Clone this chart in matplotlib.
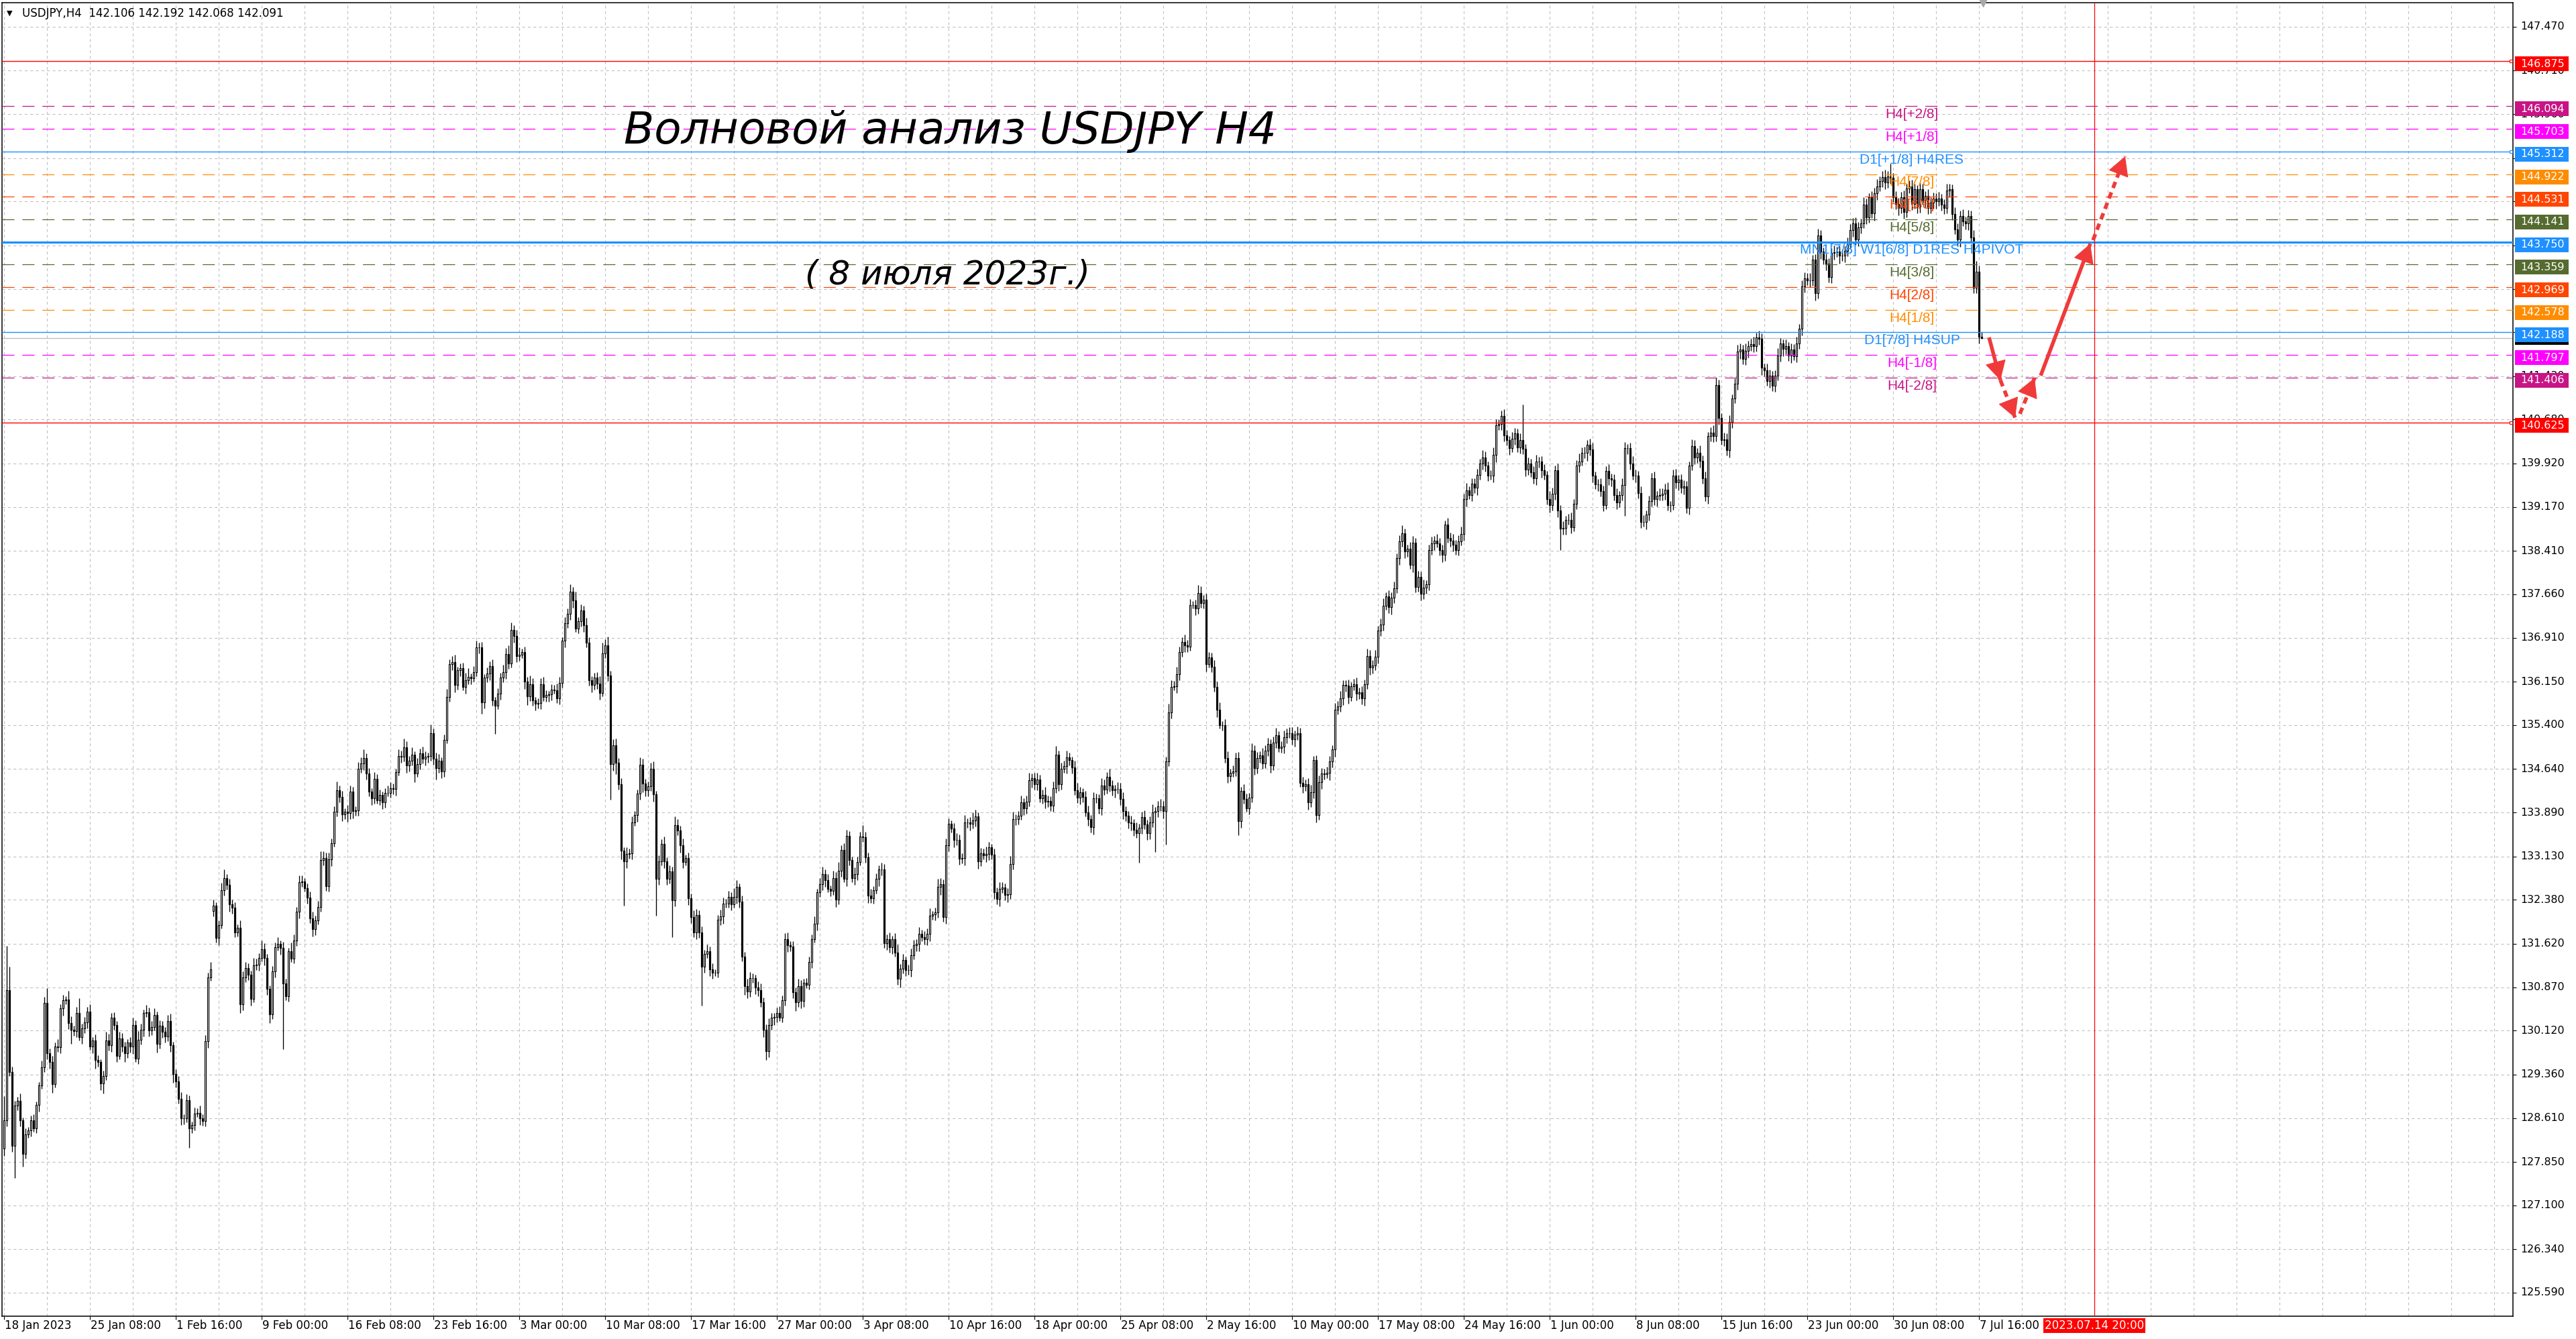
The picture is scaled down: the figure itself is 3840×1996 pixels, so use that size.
import numpy as np
import matplotlib
matplotlib.use("Agg")
import matplotlib.pyplot as plt
import matplotlib.transforms as mtransforms
from matplotlib.patches import Rectangle, FancyArrowPatch
from matplotlib.collections import LineCollection, PatchCollection

plt.rcParams['lines.scale_dashes'] = False
plt.rcParams['font.family'] = ['DejaVu Sans']

# ======================= DATA =======================
symbol = "USDJPY,H4"
header_ohlc = [142.106, 142.192, 142.068, 142.091]

# H4 closes, bar 0 = 18 Jan 2023 00:00 ... bar 737 = 7 Jul 2023 20:00
closes = [
    128.57, 130.82, 129.40, 128.13, 128.82, 128.91, 128.57, 127.99, 128.33, 128.39,
    128.57, 128.43, 128.84, 129.17, 129.48, 130.60, 129.73, 129.58, 129.20, 129.85,
    129.83, 130.50, 130.64, 130.66, 130.25, 130.14, 130.11, 130.43, 130.01, 130.16,
    130.26, 130.45, 129.85, 129.95, 129.61, 129.58, 129.21, 129.33, 129.95, 129.87,
    130.34, 130.22, 129.68, 129.98, 129.85, 129.73, 129.91, 129.84, 130.22, 129.64,
    129.96, 130.14, 130.42, 130.44, 130.12, 130.18, 130.39, 129.89, 130.20, 130.10,
    130.02, 130.29, 129.87, 129.37, 129.24, 128.94, 128.61, 128.60, 128.92, 128.43,
    128.49, 128.69, 128.70, 128.61, 128.56, 129.94, 131.04, 131.18, 132.28, 131.72,
    131.94, 132.55, 132.76, 132.64, 132.30, 132.24, 131.81, 131.90, 130.57, 131.04,
    131.20, 131.09, 130.67, 131.25, 131.26, 131.38, 131.53, 131.37, 130.84, 130.40,
    131.14, 131.56, 131.62, 131.55, 130.94, 130.72, 131.49, 131.36, 131.68, 132.18,
    132.68, 132.70, 132.58, 132.42, 132.06, 131.87, 132.02, 132.26, 133.07, 133.10,
    132.62, 133.08, 133.36, 133.90, 134.27, 134.16, 133.86, 133.90, 133.88, 134.25,
    133.91, 133.93, 134.64, 134.74, 134.83, 134.56, 134.25, 134.14, 134.47, 134.10,
    134.19, 134.07, 134.23, 134.23, 134.31, 134.30, 134.59, 134.86, 134.85, 135.02,
    134.70, 134.78, 134.89, 134.56, 134.73, 134.91, 134.82, 134.85, 134.86, 135.26,
    134.82, 134.66, 134.78, 134.60, 135.14, 135.88, 136.45, 136.49, 136.09, 136.35,
    136.38, 136.06, 136.18, 136.23, 136.21, 136.32, 136.74, 136.74, 135.79, 136.22,
    136.29, 136.42, 135.83, 135.74, 135.94, 136.22, 136.32, 136.63, 136.47, 137.05,
    136.94, 136.59, 136.62, 136.66, 136.15, 135.90, 136.11, 135.83, 135.77, 135.78,
    136.11, 135.88, 135.92, 135.93, 136.01, 136.00, 135.86, 136.13, 136.86, 137.16,
    137.32, 137.71, 137.55, 137.07, 137.20, 137.38, 137.13, 136.82, 136.18, 136.09,
    136.22, 136.12, 135.96, 136.64, 136.78, 136.26, 134.73, 135.05, 134.75, 134.38,
    133.23, 133.05, 133.17, 133.18, 133.72, 133.85, 134.21, 134.72, 134.39, 134.27,
    134.34, 134.65, 134.20, 132.74, 133.05, 133.35, 133.05, 132.74, 132.87, 132.37,
    133.67, 133.58, 133.32, 133.03, 133.10, 132.41, 132.08, 131.82, 132.12, 131.82,
    131.22, 131.45, 131.49, 131.18, 131.12, 131.12, 132.04, 132.09, 132.32, 132.32,
    132.43, 132.30, 132.43, 132.60, 132.35, 131.40, 130.89, 130.80, 131.03, 131.03,
    130.87, 130.82, 130.61, 130.13, 129.76, 130.21, 130.34, 130.36, 130.42, 130.34,
    130.65, 131.70, 131.60, 131.57, 130.78, 130.61, 130.89, 130.63, 130.95, 130.91,
    131.30, 131.70, 131.97, 132.51, 132.65, 132.83, 132.72, 132.57, 132.54, 132.76,
    132.38, 132.88, 133.24, 132.74, 133.49, 133.07, 132.76, 132.82, 133.03, 133.47,
    133.46, 133.12, 132.45, 132.41, 132.55, 132.74, 132.90, 132.90, 131.63, 131.70,
    131.56, 131.70, 131.47, 131.01, 131.19, 131.34, 131.17, 131.17, 131.42, 131.59,
    131.62, 131.79, 131.74, 131.70, 131.79, 132.11, 132.13, 132.16, 132.60, 132.65,
    132.08, 133.32, 133.69, 133.61, 133.41, 133.41, 133.09, 133.10, 133.72, 133.72,
    133.69, 133.75, 133.82, 133.05, 133.18, 133.15, 133.17, 133.29, 133.16, 132.51,
    132.39, 132.57, 132.59, 132.47, 132.48, 133.00, 133.78, 133.78, 133.83, 134.07,
    133.96, 134.08, 134.45, 134.48, 134.38, 134.46, 134.13, 134.19, 134.08, 134.09,
    134.01, 134.31, 134.89, 134.38, 134.65, 134.69, 134.84, 134.79, 134.67, 134.27,
    134.15, 134.24, 134.16, 133.89, 133.77, 133.64, 134.13, 134.13, 133.96, 134.36,
    134.29, 134.51, 134.36, 134.27, 134.30, 134.30, 134.12, 133.91, 133.83, 133.72,
    133.70, 133.59, 133.53, 133.62, 133.81, 133.68, 133.53, 133.72, 133.89, 133.91,
    134.00, 133.99, 133.91, 134.77, 135.62, 136.06, 136.07, 136.28, 136.66, 136.84,
    136.78, 136.76, 137.47, 137.47, 137.42, 137.68, 137.51, 137.57, 136.45, 136.57,
    136.41, 136.06, 135.66, 135.40, 135.40, 134.83, 134.52, 134.57, 134.60, 134.83,
    133.74, 134.26, 134.12, 133.96, 134.15, 134.96, 134.66, 134.83, 134.88, 134.74,
    134.96, 135.07, 134.70, 135.10, 135.22, 135.00, 135.03, 135.19, 135.26, 135.26,
    135.15, 135.24, 135.26, 134.40, 134.34, 134.38, 134.07, 134.24, 134.79, 133.84,
    134.41, 134.56, 134.55, 134.57, 134.77, 134.98, 135.66, 135.72, 135.86, 136.09,
    136.08, 135.89, 136.07, 136.10, 135.94, 135.97, 135.86, 136.10, 136.59, 136.39,
    136.43, 136.58, 137.03, 137.14, 137.46, 137.62, 137.44, 137.60, 137.76, 138.29,
    138.58, 138.71, 138.40, 138.45, 138.17, 138.55, 137.79, 137.96, 137.67, 137.78,
    137.83, 138.42, 138.54, 138.59, 138.54, 138.42, 138.34, 138.86, 138.63, 138.59,
    138.52, 138.43, 138.58, 138.70, 139.31, 139.46, 139.37, 139.57, 139.50, 139.72,
    139.92, 140.03, 139.88, 139.71, 139.71, 140.07, 140.58, 140.60, 140.74, 140.41,
    140.32, 140.19, 140.35, 140.44, 140.20, 140.32, 140.17, 139.82, 139.92, 139.77,
    139.66, 139.95, 139.96, 139.80, 139.72, 139.31, 139.20, 139.40, 139.80, 139.11,
    138.79, 138.81, 138.95, 138.95, 138.82, 139.23, 139.89, 139.96, 140.10, 140.10,
    140.25, 140.16, 139.71, 139.56, 139.56, 139.44, 139.20, 139.79, 139.66, 139.64,
    139.38, 139.25, 139.37, 139.55, 140.19, 140.19, 139.92, 139.71, 139.71, 139.41,
    138.91, 138.91, 139.04, 139.27, 139.66, 139.30, 139.36, 139.38, 139.40, 139.47,
    139.20, 139.20, 139.71, 139.59, 139.64, 139.50, 139.52, 139.16, 139.88, 140.22,
    140.02, 140.11, 139.97, 139.67, 139.35, 140.39, 140.45, 140.40, 141.28, 140.71,
    140.32, 140.34, 140.15, 140.64, 141.04, 141.30, 141.86, 141.89, 141.73, 141.87,
    141.95, 141.98, 141.95, 142.10, 142.08, 141.58, 141.53, 141.35, 141.44, 141.26,
    141.44, 141.79, 141.99, 141.90, 141.95, 141.79, 141.89, 141.78, 141.99, 142.25,
    142.98, 143.12, 143.08, 143.08, 143.44, 142.87, 143.86, 143.58, 143.44, 143.37,
    143.14, 143.56, 143.57, 143.58, 143.51, 143.51, 143.60, 143.71, 143.96, 144.07,
    143.79, 144.00, 144.07, 144.40, 144.18, 144.52, 144.25, 144.59, 144.71, 144.80,
    144.87, 144.78, 144.88, 144.86, 144.52, 144.41, 144.34, 144.52, 144.27, 144.67,
    144.71, 144.41, 144.66, 144.36, 144.66, 144.48, 144.55, 144.34, 144.43, 144.50,
    144.45, 144.50, 144.39, 144.34, 144.64, 144.66, 144.23, 143.97, 143.79, 144.20,
    144.11, 144.07, 144.20, 143.83, 142.96, 143.24, 142.106, 142.091,
]
# opens equal the previous close except at these gaps
gap_opens = {0: 128.08, 78: 132.19}

# upper / lower shadows in 0.01 JPY, 30 bars per row
wick_up_rows = [
    "42 76 41 10 8 6 12 5 10 6 8 10 5 6 12 10 25 8 10 6 12 8 10 5 15 12 6 10 25 8",
    "10 8 12 6 10 8 5 10 15 12 8 10 6 12 10 8 6 10 12 8 15 10 6 12 8 10 12 6 10 8",
    "8 10 12 6 8 10 12 6 10 8 6 10 8 12 6 10 8 12 10 6 8 12 15 6 10 8 10 6 12 10",
    "10 8 6 12 10 8 15 10 8 6 10 8 12 6 10 8 6 15 10 8 12 10 6 8 10 12 8 10 15 12",
    "10 12 8 10 15 8 10 6 12 10 8 6 12 10 15 8 10 6 12 8 10 6 8 12 10 8 6 12 10 15",
    "10 8 12 6 10 8 12 10 6 15 8 10 12 6 10 15 8 10 12 6 8 10 12 15 6 10 12 8 10 6",
    "10 8 12 6 10 8 12 10 15 12 8 10 12 6 10 8 15 10 6 8 10 12 8 6 10 8 12 10 6 10",
    "10 12 8 15 6 10 8 12 10 6 8 10 12 18 10 15 8 10 12 8 10 6 12 8 10 6 8 12 10 8",
    "8 10 12 6 10 8 12 6 10 8 15 10 8 12 6 10 8 12 10 8 10 6 12 8 10 6 8 12 10 8",
    "10 8 15 12 6 10 8 12 10 8 6 10 12 8 10 12 8 6 10 12 8 10 12 6 10 8 12 10 6 8",
    "10 8 12 6 10 12 8 10 6 12 10 15 8 12 10 8 6 12 10 8 20 10 8 12 6 10 8 12 10 8",
    "12 6 10 14 8 10 6 9 12 10 8 12 7 10 9 12 6 8 14 10 8 12 10 6 9 12 10 8 12 7",
    "9 14 12 7 10 8 13 9 6 10 8 12 9 7 10 14 12 8 9 11 7 10 13 8 9 12 8 10 14 9",
    "8 11 15 7 10 9 12 8 6 11 13 9 7 10 12 8 11 9 7 12 10 8 13 9 7 11 10 12 8 9",
    "11 8 13 7 9 12 8 10 14 7 9 12 10 8 15 11 9 13 10 8 12 9 11 7 10 14 12 8 10 9",
    "8 11 9 13 7 10 12 8 10 9 11 7 12 10 8 13 9 10 7 12 9 11 8 10 13 7 9 12 8 10",
    "10 7 12 9 11 8 10 13 7 9 12 10 8 11 9 7 12 10 13 8 9 11 7 10 12 8 10 9 13 11",
    "9 12 8 10 13 7 11 9 12 8 10 14 9 7 11 12 8 10 9 13 7 10 12 8 11 9 10 7 12 9",
    "11 8 10 13 9 12 7 10 9 11 8 12 10 7 9 13 11 8 10 12 9 7 11 10 8 12 62 9 10 8",
    "10 12 8 9 11 7 13 10 8 12 9 11 7 10 12 8 9 13 10 11 8 10 12 7 9 11 10 8 12 9",
    "9 11 8 12 10 7 9 13 10 8 11 12 7 9 10 12 8 11 9 10 13 7 10 12 8 9 11 10 8 12",
    "10 8 12 9 11 7 10 13 12 9 8 11 10 12 7 9 11 10 8 12 9 10 13 8 11 9 7 12 10 8",
    "9 12 10 8 11 7 10 9 12 8 11 10 9 13 8 10 12 9 7 11 10 8 12 9 10 11 8 12 10 9",
    "11 9 8 12 10 7 11 9 12 8 10 13 9 22 8 11 10 9 12 8 10 11 9 7 12 10 8 11 9 10",
    "9 12 8 10 11 9 8 12 10 9 11 8 10 9 12 18 10 9",
]
wick_dn_rows = [
    "12 10 6 10 56 8 10 22 8 6 10 6 8 12 5 8 10 12 15 6 8 10 12 6 10 25 8 10 6 12",
    "8 10 6 12 15 8 12 18 6 10 12 8 10 6 10 15 8 10 12 6 10 8 12 6 10 8 6 15 8 10",
    "10 8 12 15 10 8 12 10 6 34 8 10 6 12 8 10 12 6 10 8 12 6 10 8 12 10 8 6 15 10",
    "8 10 12 6 8 10 6 12 10 15 8 10 6 12 114 8 10 6 8 10 12 8 6 10 8 12 10 6 8 10",
    "8 10 12 6 8 10 12 8 15 10 12 8 10 6 12 10 8 12 10 6 8 12 10 6 8 10 12 6 10 8",
    "12 10 8 15 6 10 8 12 10 8 10 20 8 12 10 6 8 10 12 8 10 6 12 8 10 6 8 10 20 10",
    "8 12 10 49 6 10 8 12 10 8 12 10 8 6 12 15 8 10 12 8 10 6 8 12 10 6 8 10 8 12",
    "8 10 12 6 8 10 12 8 10 12 8 10 12 6 8 10 62 12 20 10 15 77 12 8 10 6 12 10 15 10",
    "10 8 12 64 10 8 12 10 8 64 10 8 12 10 6 12 10 8 12 10 67 10 8 12 10 6 8 10 12 8",
    "8 10 6 12 10 8 15 12 10 8 12 10 8 12 15 10 8 12 10 6 8 10 12 8 10 15 8 12 10 6",
    "8 10 6 12 8 10 12 6 10 8 12 8 10 6 12 10 8 12 10 6 8 10 12 8 10 6 12 10 8 12",
    "9 12 7 10 14 8 11 9 12 7 10 13 8 9 11 12 7 10 9 14 8 11 10 7 12 9 10 8 13 9",
    "11 8 10 13 9 7 12 10 8 11 9 12 7 10 13 8 9 11 10 7 12 9 8 13 10 11 7 9 12 10",
    "9 11 8 12 10 7 13 9 11 8 10 12 9 7 11 10 13 8 9 12 10 7 11 9 12 8 10 13 9 11",
    "12 10 8 51 10 8 12 10 8 68 10 8 12 58 8 10 6 12 10 8 12 10 8 6 12 10 8 10 12 6",
    "10 8 12 6 10 8 12 10 6 8 24 12 8 6 10 8 12 10 8 10 8 10 12 8 10 6 8 12 10 8",
    "9 12 10 7 11 8 13 9 10 12 8 11 9 7 12 10 13 8 9 11 10 12 8 7 11 9 10 13 8 12",
    "10 8 12 9 11 7 10 13 9 8 12 10 11 9 7 13 10 8 12 9 11 10 8 12 7 9 13 10 8 11",
    "12 9 10 8 11 13 7 10 9 12 8 11 10 9 7 12 13 8 10 11 9 12 7 10 8 11 9 12 10 8",
    "9 11 10 12 8 10 13 9 11 12 36 10 12 9 11 7 10 12 8 9 13 10 11 8 12 9 10 7 11 12",
    "10 12 8 9 53 11 10 7 12 9 10 8 13 11 9 10 12 8 10 11 9 12 8 10 13 9 11 10 12 8",
    "11 9 12 10 8 13 9 11 10 12 8 10 9 12 11 8 10 13 9 11 12 8 10 9 11 13 10 8 12 9",
    "10 8 11 12 9 10 13 8 11 9 12 10 8 11 9 13 10 12 8 11 9 10 12 8 13 9 11 10 8 12",
    "9 11 10 8 12 10 9 13 11 8 10 12 9 11 8 10 13 9 12 10 8 11 9 12 10 8 13 11 9 10",
    "12 8 10 11 9 12 10 8 11 13 9 10 12 8 10 9 11 2",
]

date_labels = ["18 Jan 2023", "25 Jan 08:00", "1 Feb 16:00", "9 Feb 00:00", "16 Feb 08:00",
               "23 Feb 16:00", "3 Mar 00:00", "10 Mar 08:00", "17 Mar 16:00", "27 Mar 00:00",
               "3 Apr 08:00", "10 Apr 16:00", "18 Apr 00:00", "25 Apr 08:00", "2 May 16:00",
               "10 May 00:00", "17 May 08:00", "24 May 16:00", "1 Jun 00:00", "8 Jun 08:00",
               "15 Jun 16:00", "23 Jun 00:00", "30 Jun 08:00", "7 Jul 16:00"]
bars_per_label = 32
future_label = "2023.07.14 20:00"
future_bar = 779

price_ticks = [147.470, 146.710, 145.960, 145.200, 144.450, 143.690, 142.940, 142.190,
               141.430, 140.680, 139.920, 139.170, 138.410, 137.660, 136.910, 136.150,
               135.400, 134.640, 133.890, 133.130, 132.380, 131.620, 130.870, 130.120,
               129.360, 128.610, 127.850, 127.100, 126.340, 125.590]
hidden_tick_labels = [145.200, 144.450, 143.690, 142.940, 142.190]

level_values = [146.875, 146.094, 145.703, 145.312, 144.922, 144.531, 144.141, 143.750,
                143.359, 142.969, 142.578, 142.188, 141.797, 141.406, 140.625]
level_names = ["", "H4[+2/8]", "H4[+1/8]", "D1[+1/8] H4RES", "H4[7/8]", "H4[6/8]", "H4[5/8]",
               "MN1[7/8] W1[6/8] D1RES H4PIVOT", "H4[3/8]", "H4[2/8]", "H4[1/8]",
               "D1[7/8] H4SUP", "H4[-1/8]", "H4[-2/8]", ""]
bid_price = 142.091

# forecast path drawn on the chart (bar index, price)
forecast_from = [(739.75, 142.10), (744.0, 141.36), (751.25, 140.78), (759.0, 141.44), (778.5, 143.78)]
forecast_to = [(744.0, 141.36), (749.5, 140.71), (756.75, 141.40), (777.5, 143.72), (790.5, 145.23)]

title_text = "Волновой анализ USDJPY H4"
date_text = "( 8 июля 2023г.)"

# ======================= STYLE =======================
level_colors = ["#ff0000", "#c71585", "#ff00ff", "#1e90ff", "#ff8c00", "#ff4500", "#556b2f",
                "#1e90ff", "#556b2f", "#ff4500", "#ff8c00", "#1e90ff", "#ff00ff", "#c71585", "#ff0000"]
level_kinds = ["solid", "dash", "dash", "solid", "dash", "dash", "dash", "thick",
               "dash", "dash", "dash", "solid", "dash", "dash", "solid"]
level_square = [True, False, False, True, False, False, False, False,
                False, False, False, False, False, False, True]
forecast_styles = ["solid", "dotted", "dotted", "solid", "dotted"]
arrow_color = "#f03a3a"
grid_color = "#c0c0c0"


def parse_rows(rows, n):
    vals = []
    for k, r in enumerate(rows):
        v = [int(t) for t in r.split()]
        exp = 30 if k < len(rows) - 1 else n - 30 * (len(rows) - 1)
        if len(v) != exp:
            raise ValueError("row %d has %d values, expected %d" % (k, len(v), exp))
        vals += v
    return np.array(vals, dtype=float) / 100.0


c = np.array(closes, dtype=float)
n = len(c)
o = np.empty(n)
o[1:] = c[:-1]
for i, v in gap_opens.items():
    o[i] = v
wu = parse_rows(wick_up_rows, n)
wd = parse_rows(wick_dn_rows, n)
hi = np.maximum(o, c) + wu
lo = np.minimum(o, c) - wd

# ======================= FIGURE =======================
W, H = 3840, 1996
fig = plt.figure(figsize=(W / 100, H / 100), dpi=100)
fig.patch.set_facecolor("white")
L_, R_, T_, B_ = 3, 3746, 4, 1962
ax = fig.add_axes([L_ / W, 1 - B_ / H, (R_ - L_) / W, (B_ - T_) / H])
ax.set_facecolor("white")
ax.set_xlim(-0.75, 935)
ax.set_ylim(125.184, 147.885)
for sp in ax.spines.values():
    sp.set_color("black")
    sp.set_linewidth(1.1)
PX_PER_YEN = (B_ - T_) / (147.885 - 125.184)

# grid
for p in price_ticks:
    ax.axhline(p, color=grid_color, lw=0.8, ls=(0, (3, 3)), zorder=0.5)
for b in range(0, 936, 16):
    ax.axvline(b, color=grid_color, lw=0.8, ls=(0, (3, 3)), zorder=0.5)

# ticks
ax.yaxis.tick_right()
ax.set_yticks(price_ticks)
ax.set_xticks([bars_per_label * k for k in range(len(date_labels))])
ax.tick_params(axis='y', which='both', right=True, left=False, length=3.5, width=0.8,
               labelright=False, labelleft=False, direction='out')
ax.tick_params(axis='x', which='both', bottom=True, length=3.5, width=0.8,
               labelbottom=False, direction='out')

# bid line
ax.axhline(bid_price, color="#c0c0c0", lw=1.0, zorder=1.5)

# candles
x = np.arange(n)
segs = [[(xi, l), (xi, h)] for xi, l, h in zip(x, lo, hi)]
ax.add_collection(LineCollection(segs, colors="black", linewidths=0.95, zorder=2))
bw = 0.58
bull_r, bear_r = [], []
for xi, oi, ci in zip(x, o, c):
    r = Rectangle((xi - bw / 2, min(oi, ci)), bw, abs(ci - oi))
    (bull_r if ci >= oi else bear_r).append(r)
ax.add_collection(PatchCollection(bull_r, facecolor="white", edgecolor="black", linewidth=0.85, zorder=3))
ax.add_collection(PatchCollection(bear_r, facecolor="black", edgecolor="black", linewidth=0.85, zorder=3))

# levels
label_bar = 711
for v, name, col, kind in zip(level_values, level_names, level_colors, level_kinds):
    if kind == "dash":
        ax.axhline(v, color=col, lw=0.9, ls=(0, (13, 8.5)), zorder=4)
    elif kind == "thick":
        ax.axhline(v, color=col, lw=2.3, zorder=4)
    else:
        ax.axhline(v, color=col, lw=1.0, zorder=4)
    if name:
        ax.annotate(name, xy=(label_bar, v), xytext=(0, -2), textcoords="offset points",
                    ha="center", va="top", color=col, fontsize=15,
                    family=["Liberation Sans", "DejaVu Sans"], zorder=6)
for v, col, sq in zip(level_values, level_colors, level_square):
    if sq:
        ax.plot([934.2], [v], marker="s", ms=3.5, mfc="white", mec=col, mew=0.8,
                clip_on=False, zorder=8)

# future vertical line
ax.axvline(future_bar, color="red", lw=0.9, zorder=4)

# right-hand price scale
tr = mtransforms.blended_transform_factory(fig.transFigure, ax.transData)
for p in price_ticks:
    if any(abs(p - h) < 1e-6 for h in hidden_tick_labels):
        continue
    ax.text(3757 / W, p, "%.3f" % p, transform=tr, va="center", ha="left",
            fontsize=11.4, color="black", clip_on=False, zorder=5)
box_h = 22 / PX_PER_YEN
box_shift = 4 / PX_PER_YEN
ax.add_artist(Rectangle((3749 / W, bid_price - box_shift - 0.075), 80 / W, 0.15, transform=tr,
                        facecolor="black", edgecolor="none", clip_on=False, zorder=6.5))
for v, col in zip(level_values, level_colors):
    yc = v - box_shift
    ax.add_artist(Rectangle((3749 / W, yc - box_h / 2), 80 / W, box_h, transform=tr,
                            facecolor=col, edgecolor="none", clip_on=False, zorder=7))
    ax.text(3757 / W, yc, "%.3f" % v, transform=tr, va="center", ha="left",
            fontsize=11.4, color="white", clip_on=False, zorder=8)

# time scale
trx = mtransforms.blended_transform_factory(ax.transData, fig.transFigure)
for k, lab in enumerate(date_labels):
    ax.text(bars_per_label * k + 0.3, 1 - 1976 / H, lab, transform=trx, ha="left", va="center",
            fontsize=12, color="black", clip_on=False)
ax.text(future_bar, 1 - 1976 / H, future_label, transform=trx, ha="center", va="center",
        fontsize=12, color="white", clip_on=False, zorder=8,
        bbox=dict(boxstyle="square,pad=0.12", fc="#ff0000", ec="none"))

# chart-shift marker
ax.plot([737.5], [147.885], marker="v", ms=8, color="#a8a8a8", clip_on=False, zorder=8)

# forecast arrows
for (x0, y0), (x1, y1), sty in zip(forecast_from, forecast_to, forecast_styles):
    ls = "-" if sty == "solid" else (0, (7, 5))
    ax.plot([x0, x1], [y0, y1], color=arrow_color, lw=4.0, ls=ls,
            solid_capstyle="butt", dash_capstyle="butt", zorder=9)
    hx = x1 - 0.02 * (x1 - x0)
    hy = y1 - 0.02 * (y1 - y0)
    ax.add_patch(FancyArrowPatch((hx, hy), (x1, y1),
                                 arrowstyle="-|>,head_length=1.0,head_width=0.55",
                                 mutation_scale=19, lw=0.8, color=arrow_color,
                                 shrinkA=0, shrinkB=0, zorder=10))

# header
fig.text(10 / W, 1 - 20 / H, "▼", fontsize=8, color="black", va="center", ha="left")
fig.text(33 / W, 1 - 20 / H, "%s  %s" % (symbol, " ".join("%.3f" % v for v in header_ohlc)),
         fontsize=12, color="black", va="center", ha="left")

# titles
fig.text(930 / W, 1 - 196 / H, title_text, fontsize=47.5, style="italic", color="black",
         va="center", ha="left")
fig.text(1200 / W, 1 - 409 / H, date_text, fontsize=36, style="italic", color="black",
         va="center", ha="left")

fig.savefig("out.png", dpi=100, facecolor="white")
